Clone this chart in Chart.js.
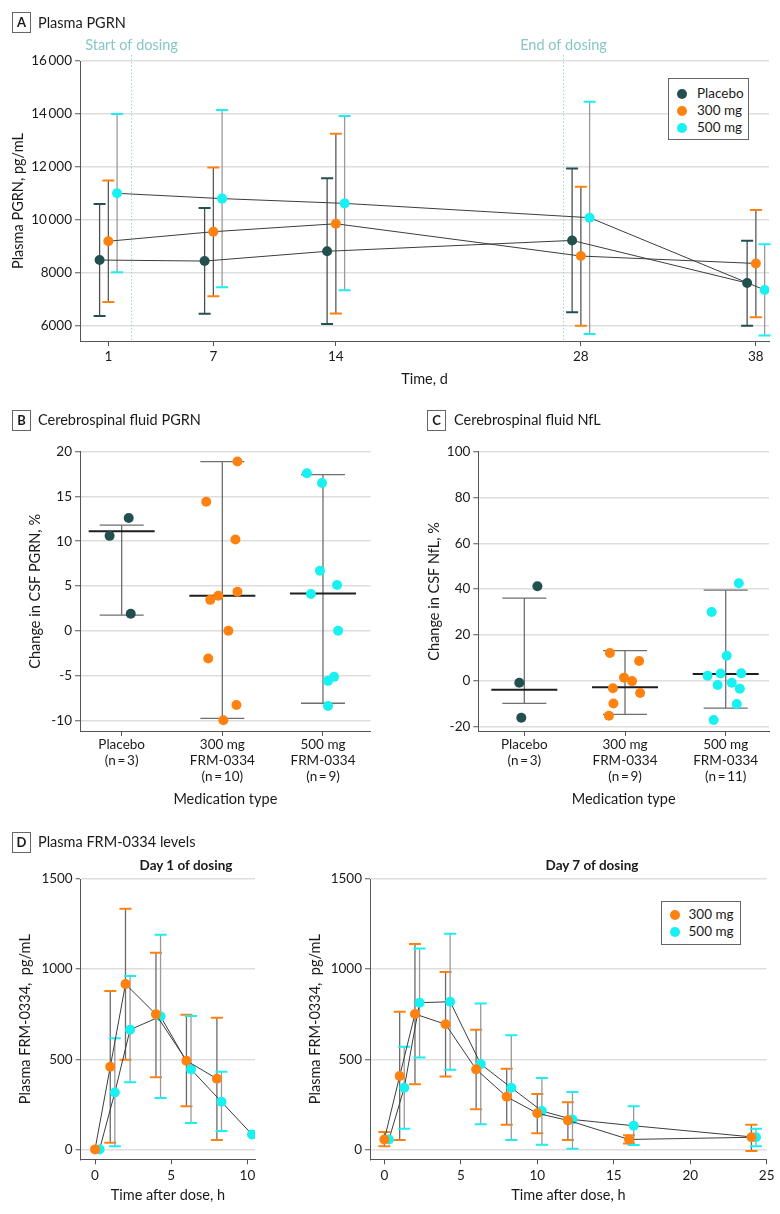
<!DOCTYPE html>
<html>
<head>
<meta charset="utf-8">
<title>FRM-0334: PGRN, NfL and plasma levels</title>
<script src="https://cdn.jsdelivr.net/npm/chart.js@4.4.1/dist/chart.umd.min.js"></script>
<style>
  body { margin: 0; background: #fff; font-family: Lato, "Open Sans", sans-serif; color: #1a1a1a; }
  #page { position: relative; width: 780px; height: 1214px; overflow: hidden; }
  #page canvas { position: absolute; }
  .tag { position: absolute; box-sizing: border-box; width: 19px; height: 21px; border: 1.5px solid #666; font-size: 13px; font-weight: bold; text-align: center; line-height: 18px; }
  .head { position: absolute; font-size: 14.5px; line-height: 20px; white-space: nowrap; }
  .sub { position: absolute; font-size: 13.5px; font-weight: bold; transform: translateX(-50%); white-space: nowrap; }
  .legend { position: absolute; box-sizing: border-box; border: 1.3px solid #666; background: #fff; font-size: 13.5px; }
  .legend div { position: relative; height: 17px; line-height: 17px; white-space: nowrap; }
  .legend i { position: absolute; top: 3.5px; width: 10px; height: 10px; border-radius: 50%; }
</style>
</head>
<body>
<div id="page">
  <canvas id="chartA" width="780" height="395" style="left:0;top:0"></canvas>
  <canvas id="chartB" width="390" height="385" style="left:0;top:430px"></canvas>
  <canvas id="chartC" width="390" height="385" style="left:390px;top:430px"></canvas>
  <canvas id="chartD1" width="270" height="364" style="left:0;top:850px"></canvas>
  <canvas id="chartD7" width="510" height="364" style="left:270px;top:850px"></canvas>

  <div class="tag" style="left:12px;top:12px">A</div>
  <div class="head" style="left:38px;top:13px">Plasma PGRN</div>
  <div class="legend" id="legendA" style="left:668px;top:78px;width:81px;height:62px;padding-top:6px"></div>

  <div class="tag" style="left:12px;top:410px">B</div>
  <div class="head" style="left:38px;top:410px">Cerebrospinal fluid PGRN</div>
  <div class="tag" style="left:427px;top:410px">C</div>
  <div class="head" style="left:454px;top:410px">Cerebrospinal fluid NfL</div>

  <div class="tag" style="left:12px;top:832px">D</div>
  <div class="head" style="left:38px;top:832px">Plasma FRM-0334 levels</div>
  <div class="sub" style="left:186px;top:857px">Day 1 of dosing</div>
  <div class="sub" style="left:592px;top:857px">Day 7 of dosing</div>
  <div class="legend" id="legendD" style="left:661px;top:901px;width:80px;height:44px;padding-top:4px"></div>
</div>

<script>
// ---- panel A: plasma PGRN, pg/mL (mean with error bars) ----
var visitDays = [1, 7, 14, 28, 38];
var groupNames = ['Placebo', '300 mg', '500 mg'];
var pgrnPlacebo = [8480, 8440, 8810, 9220, 7610];
var pgrnPlaceboLo = [6360, 6450, 6060, 6510, 6000];
var pgrnPlaceboHi = [10600, 10450, 11570, 11940, 9210];
var pgrn300 = [9190, 9550, 9850, 8630, 8350];
var pgrn300Lo = [6890, 7110, 6460, 6000, 6320];
var pgrn300Hi = [11480, 11980, 13250, 11250, 10370];
var pgrn500 = [11000, 10800, 10620, 10080, 7350];
var pgrn500Lo = [8020, 7450, 7340, 5680, 5630];
var pgrn500Hi = [14000, 14150, 13920, 14460, 9080];
var pgrnTicks = [6000, 8000, 10000, 12000, 14000, 16000];
var dosingDays = [2.27, 26.96];
var dosingLabels = ['Start of dosing', 'End of dosing'];

// ---- panel B: change in CSF PGRN, % ----
var medLabelsB = [['Placebo', '(n\u2009=\u20093)'], ['300 mg', 'FRM-0334', '(n\u2009=\u200910)'], ['500 mg', 'FRM-0334', '(n\u2009=\u20099)']];
var csfPgrnPlacebo = [12.6, 10.6, 1.9];
var csfPgrnPlaceboJitter = [0.07, -0.12, 0.09];
var csfPgrn300 = [18.9, 14.4, 10.2, 4.35, 3.9, 3.45, 0, -3.1, -8.3, -10];
var csfPgrn300Jitter = [0.15, -0.16, 0.13, 0.15, -0.04, -0.12, 0.06, -0.14, 0.14, 0.01];
var csfPgrn500 = [17.6, 16.5, 6.7, 5.1, 4.1, 0, -5.15, -5.6, -8.4];
var csfPgrn500Jitter = [-0.16, -0.01, -0.03, 0.14, -0.12, 0.15, 0.11, 0.05, 0.05];
var csfPgrnMedian = [11.1, 3.9, 4.15];
var csfPgrnLo = [1.75, -9.8, -8.1];
var csfPgrnHi = [11.8, 18.9, 17.45];
var csfPgrnTicks = [-10, -5, 0, 5, 10, 15, 20];

// ---- panel C: change in CSF NfL, % ----
var medLabelsC = [['Placebo', '(n\u2009=\u20093)'], ['300 mg', 'FRM-0334', '(n\u2009=\u20099)'], ['500 mg', 'FRM-0334', '(n\u2009=\u200911)']];
var nflPlacebo = [41.2, -0.9, -16.2];
var nflPlaceboJitter = [0.13, -0.05, -0.03];
var nfl300 = [12.1, 8.6, 1.3, -0.2, -3.3, -5.4, -10, -15.3];
var nfl300Jitter = [-0.15, 0.14, -0.01, 0.07, -0.12, 0.15, -0.115, -0.16];
var nfl500 = [42.5, 30, 10.9, 2.1, 3.1, 3.2, -1.9, -0.9, -3.5, -10.2, -17.2];
var nfl500Jitter = [0.13, -0.14, 0.01, -0.18, -0.05, 0.155, -0.08, 0.06, 0.14, 0.11, -0.12];
var nflMedian = [-4, -2.9, 2.9];
var nflLo = [-9.9, -14.7, -12];
var nflHi = [36, 13.1, 39.5];
var nflTicks = [-20, 0, 20, 40, 60, 80, 100];

// ---- panel D: plasma FRM-0334, pg/mL ----
var doseNames = ['300 mg', '500 mg'];
var day1Hours300 = [0, 1, 2, 4, 6, 8];
var day1Conc300 = [0, 458, 917, 749, 492, 392];
var day1Lo300 = [null, 37, 497, 400, 239, 52];
var day1Hi300 = [null, 878, 1335, 1091, 747, 730];
var day1Hours500 = [0, 1, 2, 4, 6, 8, 10];
var day1Conc500 = [0, 316, 664, 738, 444, 264, 83];
var day1Lo500 = [null, 18, 372, 285, 146, 102, null];
var day1Hi500 = [null, 616, 962, 1191, 740, 431, null];
var day7Hours = [0, 1, 2, 4, 6, 8, 10, 12, 16, 24];
var day7Conc300 = [55, 407, 751, 694, 444, 292, 200, 161, 55, 67];
var day7Lo300 = [18, 52, 362, 405, 222, 137, 90, 52, 33, -9];
var day7Hi300 = [96, 764, 1139, 984, 664, 447, 307, 262, 78, 137];
var day7Conc500 = [55, 342, 814, 819, 473, 342, 213, 166, 131, 67];
var day7Lo500 = [null, 114, 510, 442, 139, 52, 26, 3, 24, 17];
var day7Hi500 = [null, 569, 1115, 1196, 810, 633, 396, 318, 239, 114];
var concTicks = [0, 500, 1000, 1500];
var day1HourTicks = [0, 5, 10];
var day7HourTicks = [0, 5, 10, 15, 20, 25];

var colPlacebo = '#23504e', col300 = '#ff8210', col500 = '#17f1f1';

Chart.defaults.font.family = 'Lato, "Open Sans", sans-serif';
Chart.defaults.font.size = 13.5;
Chart.defaults.color = '#1a1a1a';

// vertical error bars, read from errLo / errHi on each dataset
var errorBars = {
  id: 'errorBars',
  beforeDatasetsDraw: function (chart) {
    var ctx = chart.ctx, xs = chart.scales.x, ys = chart.scales.y;
    chart.data.datasets.forEach(function (ds) {
      if (!ds.errLo) return;
      ds.data.forEach(function (p, i) {
        if (ds.errLo[i] == null) return;
        var px = xs.getPixelForValue(p.x);
        var top = ys.getPixelForValue(ds.errHi[i]);
        var bot = ys.getPixelForValue(ds.errLo[i]);
        ctx.save();
        ctx.strokeStyle = ds.stemColor;
        ctx.lineWidth = 1.3;
        ctx.beginPath();
        ctx.moveTo(px, top);
        ctx.lineTo(px, bot);
        ctx.stroke();
        ctx.strokeStyle = ds.capColor;
        ctx.lineWidth = 2;
        ctx.beginPath();
        ctx.moveTo(px - 6, top); ctx.lineTo(px + 6, top);
        ctx.moveTo(px - 6, bot); ctx.lineTo(px + 6, bot);
        ctx.stroke();
        ctx.restore();
      });
    });
  }
};

// median line + interval for the dot plots
var summaryBars = {
  id: 'summaryBars',
  beforeDatasetsDraw: function (chart, args, opts) {
    if (!opts.median) return;
    var ctx = chart.ctx, xs = chart.scales.x, ys = chart.scales.y;
    ctx.save();
    opts.median.forEach(function (m, g) {
      var px = xs.getPixelForValue(g);
      var hi = ys.getPixelForValue(opts.hi[g]);
      var lo = ys.getPixelForValue(opts.lo[g]);
      var mid = ys.getPixelForValue(m);
      ctx.strokeStyle = '#6f6f6f';
      ctx.lineWidth = 1.3;
      ctx.beginPath();
      ctx.moveTo(px, hi); ctx.lineTo(px, lo);
      ctx.moveTo(px - 22, hi); ctx.lineTo(px + 22, hi);
      ctx.moveTo(px - 22, lo); ctx.lineTo(px + 22, lo);
      ctx.stroke();
      ctx.strokeStyle = '#1e1e1e';
      ctx.lineWidth = 2;
      ctx.beginPath();
      ctx.moveTo(px - 33, mid); ctx.lineTo(px + 33, mid);
      ctx.stroke();
    });
    ctx.restore();
  }
};

// dotted start / end of dosing markers
var dosingLines = {
  id: 'dosingLines',
  beforeDatasetsDraw: function (chart, args, opts) {
    if (!opts.at) return;
    var ctx = chart.ctx, xs = chart.scales.x, area = chart.chartArea;
    ctx.save();
    opts.at.forEach(function (d, i) {
      var px = Math.round(xs.getPixelForValue(d)) + 0.5;
      ctx.strokeStyle = '#9dd5d5';
      ctx.lineWidth = 1;
      ctx.setLineDash([1.5, 2]);
      ctx.beginPath();
      ctx.moveTo(px, area.top - 6);
      ctx.lineTo(px, area.bottom);
      ctx.stroke();
      ctx.setLineDash([]);
      ctx.fillStyle = '#86c6c6';
      ctx.font = '14.5px Lato, "Open Sans", sans-serif';
      ctx.textAlign = 'center';
      ctx.textBaseline = 'middle';
      ctx.fillText(opts.labels[i], px, area.top - 16);
    });
    ctx.restore();
  }
};

Chart.register(errorBars, summaryBars, dosingLines);

function tickList(list) {
  return function (s) { s.ticks = list.map(function (v) { return { value: v }; }); };
}

function yAxis(o) {
  return {
    min: o.min, max: o.max,
    afterBuildTicks: tickList(o.ticks),
    afterFit: function (s) { s.width = o.width; },
    border: { color: '#555', width: 1 },
    grid: { color: '#dedede', lineWidth: 1.5, tickLength: 5, tickColor: '#555', tickWidth: 1 },
    ticks: { padding: 3, color: '#1a1a1a', font: { size: 13.5 }, callback: o.fmt || function (v) { return String(v); } },
    title: { display: true, text: o.title, color: '#1a1a1a', font: { size: 14.5 }, padding: { top: o.titlePad, bottom: 0 } }
  };
}

function xAxis(o) {
  return {
    type: 'linear', min: o.min, max: o.max,
    afterBuildTicks: tickList(o.ticks),
    afterFit: function (s) { s.height = o.height; },
    border: { color: '#555', width: 1 },
    grid: { drawOnChartArea: false, tickLength: 5, tickColor: '#555', tickWidth: 1 },
    ticks: { padding: o.labelPad, autoSkip: false, maxRotation: 0, color: '#1a1a1a', font: { size: 13.5, lineHeight: 1.18 },
             callback: o.fmt || function (v) { return String(v); } },
    title: { display: true, text: o.title, color: '#1a1a1a', font: { size: 14.5 }, padding: { top: 0, bottom: o.titlePad } }
  };
}

function lineSeries(name, xs, shift, ys, lo, hi, color, stem) {
  return {
    label: name,
    data: xs.map(function (x, i) { return { x: x + shift, y: ys[i] }; }),
    errLo: lo, errHi: hi, capColor: color, stemColor: stem,
    borderColor: '#3c3c3c', borderWidth: 1, tension: 0,
    pointRadius: 5, pointHoverRadius: 5, pointBackgroundColor: color, pointBorderWidth: 0
  };
}

function dotSeries(name, group, vals, jitter, color) {
  return {
    label: name,
    data: vals.map(function (v, i) { return { x: group + jitter[i], y: v }; }),
    pointRadius: 5, pointHoverRadius: 5, pointBackgroundColor: color, pointBorderWidth: 0
  };
}

function thinThousands(v) {
  var s = String(v);
  return s.length > 4 ? s.slice(0, -3) + '\u2009' + s.slice(-3) : s;
}

var quiet = { legend: { display: false }, tooltip: { enabled: false } };

// A
new Chart(document.getElementById('chartA'), {
  type: 'line',
  data: { datasets: [
    lineSeries(groupNames[0], visitDays, -0.5, pgrnPlacebo, pgrnPlaceboLo, pgrnPlaceboHi, colPlacebo, '#4a5050'),
    lineSeries(groupNames[1], visitDays, 0, pgrn300, pgrn300Lo, pgrn300Hi, col300, '#5a5a5a'),
    lineSeries(groupNames[2], visitDays, 0.5, pgrn500, pgrn500Lo, pgrn500Hi, col500, '#9a9a9a')
  ] },
  options: {
    responsive: false, animation: false,
    layout: { padding: { left: 0, top: 61, right: 11, bottom: 0 } },
    plugins: Object.assign({ dosingLines: { at: dosingDays, labels: dosingLabels } }, quiet),
    scales: {
      x: xAxis({ min: -0.62, max: 38.75, ticks: visitDays, height: 54, title: 'Time, d', titlePad: 7, labelPad: 3 }),
      y: yAxis({ min: 5420, max: 16000, ticks: pgrnTicks, width: 80, title: 'Plasma PGRN, pg/mL', titlePad: 10, fmt: thinThousands })
    }
  }
});

// B
new Chart(document.getElementById('chartB'), {
  type: 'scatter',
  data: { datasets: [
    dotSeries(groupNames[0], 0, csfPgrnPlacebo, csfPgrnPlaceboJitter, colPlacebo),
    dotSeries(groupNames[1], 1, csfPgrn300, csfPgrn300Jitter, col300),
    dotSeries(groupNames[2], 2, csfPgrn500, csfPgrn500Jitter, col500)
  ] },
  options: {
    responsive: false, animation: false,
    layout: { padding: { left: 0, top: 21.7, right: 19.3, bottom: 0 } },
    plugins: Object.assign({ summaryBars: { median: csfPgrnMedian, lo: csfPgrnLo, hi: csfPgrnHi } }, quiet),
    scales: {
      x: xAxis({ min: -0.414, max: 2.474, ticks: [0, 1, 2], height: 84, title: 'Medication type', titlePad: 7, labelPad: 1,
                 fmt: function (v) { return medLabelsB[v]; } }),
      y: yAxis({ min: -11.2, max: 20, ticks: csfPgrnTicks, width: 80, title: 'Change in CSF PGRN, %', titlePad: 27 })
    }
  }
});

// C
new Chart(document.getElementById('chartC'), {
  type: 'scatter',
  data: { datasets: [
    dotSeries(groupNames[0], 0, nflPlacebo, nflPlaceboJitter, colPlacebo),
    dotSeries(groupNames[1], 1, nfl300, nfl300Jitter, col300),
    dotSeries(groupNames[2], 2, nfl500, nfl500Jitter, col500)
  ] },
  options: {
    responsive: false, animation: false,
    layout: { padding: { left: 0, top: 21.7, right: 11, bottom: 0 } },
    plugins: Object.assign({ summaryBars: { median: nflMedian, lo: nflLo, hi: nflHi } }, quiet),
    scales: {
      x: xAxis({ min: -0.457, max: 2.43, ticks: [0, 1, 2], height: 84, title: 'Medication type', titlePad: 7, labelPad: 1,
                 fmt: function (v) { return medLabelsC[v]; } }),
      y: yAxis({ min: -22, max: 100, ticks: nflTicks, width: 88.3, title: 'Change in CSF NfL, %', titlePad: 36 })
    }
  }
});

// D, day 1
new Chart(document.getElementById('chartD1'), {
  type: 'line',
  data: { datasets: [
    lineSeries(doseNames[0], day1Hours300, 0, day1Conc300, day1Lo300, day1Hi300, col300, '#6a6a6a'),
    lineSeries(doseNames[1], day1Hours500, 0.3, day1Conc500, day1Lo500, day1Hi500, col500, '#9a9a9a')
  ] },
  options: {
    responsive: false, animation: false,
    layout: { padding: { left: 0, top: 29, right: 15, bottom: 0 } },
    plugins: quiet,
    scales: {
      x: xAxis({ min: -0.94, max: 10.5, ticks: day1HourTicks, height: 54.7, title: 'Time after dose, h', titlePad: 10, labelPad: 3 }),
      y: yAxis({ min: -55, max: 1500, ticks: concTicks, width: 80.7, title: 'Plasma FRM-0334,  pg/mL', titlePad: 17 })
    }
  }
});

// D, day 7
new Chart(document.getElementById('chartD7'), {
  type: 'line',
  data: { datasets: [
    lineSeries(doseNames[0], day7Hours, 0, day7Conc300, day7Lo300, day7Hi300, col300, '#6a6a6a'),
    lineSeries(doseNames[1], day7Hours, 0.3, day7Conc500, day7Lo500, day7Hi500, col500, '#9a9a9a')
  ] },
  options: {
    responsive: false, animation: false,
    layout: { padding: { left: 0, top: 29, right: 13.3, bottom: 0 } },
    plugins: quiet,
    scales: {
      x: xAxis({ min: -0.94, max: 25, ticks: day7HourTicks, height: 54.7, title: 'Time after dose, h', titlePad: 10, labelPad: 3 }),
      y: yAxis({ min: -55, max: 1500, ticks: concTicks, width: 100, title: 'Plasma FRM-0334,  pg/mL', titlePad: 37 })
    }
  }
});

function fillLegend(id, names, colors, dotLeft, textLeft) {
  var box = document.getElementById(id);
  names.forEach(function (n, i) {
    var row = document.createElement('div');
    row.innerHTML = '<i style="left:' + dotLeft + 'px;background:' + colors[i] + '"></i>' +
                    '<span style="padding-left:' + textLeft + 'px">' + n + '</span>';
    box.appendChild(row);
  });
}
fillLegend('legendA', groupNames, [colPlacebo, col300, col500], 8, 28);
fillLegend('legendD', doseNames, [col300, col500], 7.5, 26.5);
</script>
</body>
</html>
